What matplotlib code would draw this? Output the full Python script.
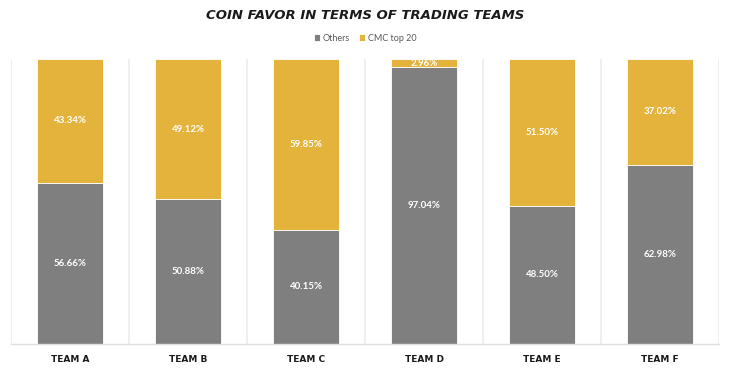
import numpy as np
import matplotlib.pyplot as plt

teams = ['TEAM A', 'TEAM B', 'TEAM C', 'TEAM D', 'TEAM E', 'TEAM F']
others = [56.66, 50.88, 40.15, 97.04, 48.50, 62.98]
cmc_top20 = [43.34, 49.12, 59.85, 2.96, 51.50, 37.02]

c_others = '#7f7f7f'
c_cmc = '#e4b33c'

plt.rcParams['font.family'] = ['Lato', 'DejaVu Sans']

fig = plt.figure(figsize=(7.3, 3.7), dpi=100)
ax = fig.add_axes([0.0151, 0.0703, 0.9699, 0.7702])

x = np.arange(len(teams))
w = 0.56
ax.bar(x, others, w, color=c_others, label='Others', edgecolor='white', linewidth=0.6, zorder=2)
ax.bar(x, cmc_top20, w, bottom=others, color=c_cmc, label='CMC top 20', edgecolor='white', linewidth=0.6, zorder=2)

for i in range(len(teams)):
    ax.text(x[i], others[i] / 2, f'{others[i]:.2f}%', ha='center', va='center',
            color='white', fontsize=7, fontweight='bold')
    ax.text(x[i], others[i] + cmc_top20[i] / 2, f'{cmc_top20[i]:.2f}%', ha='center', va='center',
            color='white', fontsize=7, fontweight='bold')

ax.set_xlim(-0.5, len(teams) - 0.5)
ax.set_ylim(0, 100)
for b in np.arange(-0.5, len(teams), 1.0):
    ax.axvline(b, color='#ececec', linewidth=1.2, zorder=1)

ax.set_yticks([])
ax.set_xticks(x)
ax.set_xticklabels(teams, fontsize=6.5, fontweight='bold', color='#1a1a1a',
                   family=['DejaVu Sans'])
ax.tick_params(axis='x', length=0, pad=8)
for s in ['top', 'left', 'right']:
    ax.spines[s].set_visible(False)
ax.spines['bottom'].set_color('#e0e0e0')
ax.spines['bottom'].set_linewidth(1.0)

fig.text(0.5, 0.958, 'COIN FAVOR IN TERMS OF TRADING TEAMS', ha='center', va='center',
         fontsize=9.5, fontweight='bold', fontstyle='italic', color='#1a1a1a',
         family=['DejaVu Sans'])
ax.legend(loc='center', bbox_to_anchor=(0.5, 0.897), bbox_transform=fig.transFigure, ncol=2,
          frameon=False, fontsize=6.5, handlelength=0.7, handleheight=0.7, handletextpad=0.3,
          columnspacing=1.0, labelcolor='#595959')

fig.savefig('out.png', dpi=100)
